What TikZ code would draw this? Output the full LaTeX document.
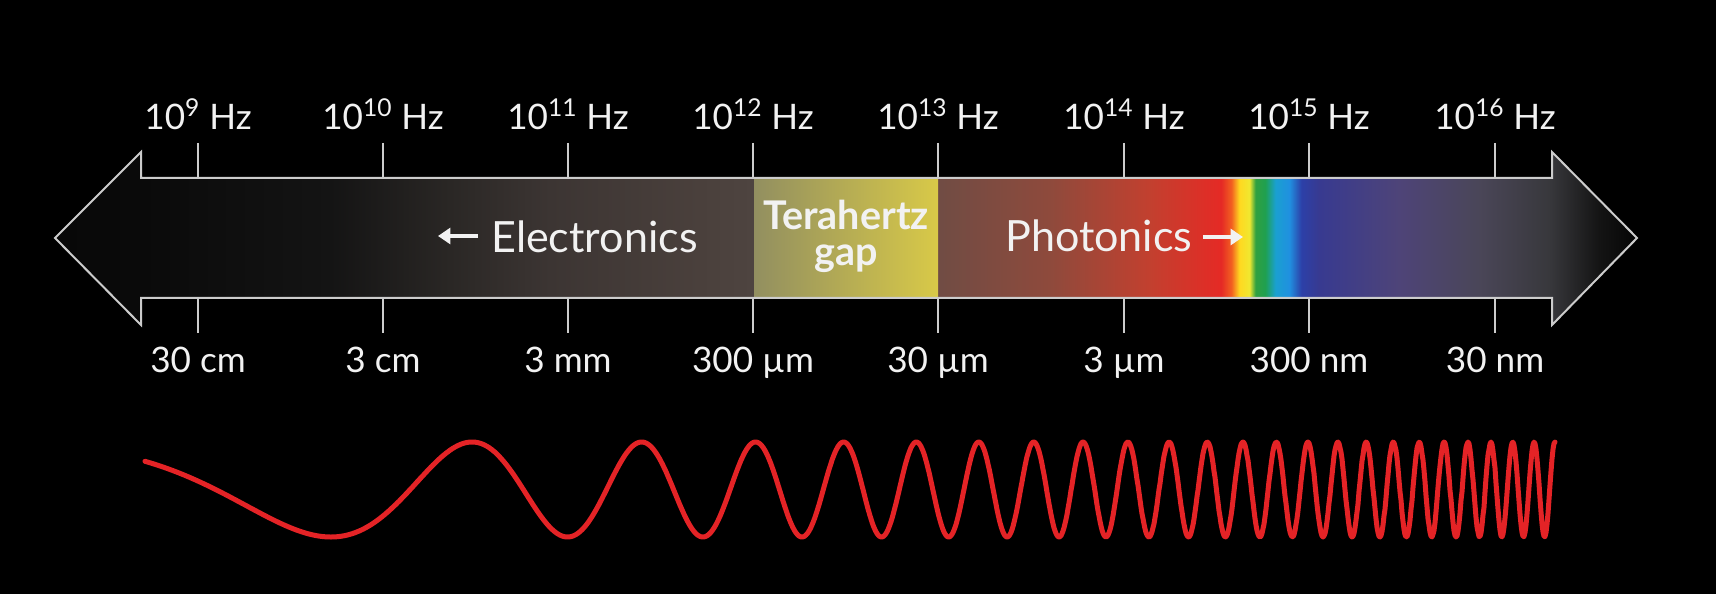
\documentclass[tikz,border=0pt]{standalone}
\usepackage{fontspec}
\setmainfont{Lato}
\usetikzlibrary{arrows.meta}
\definecolor{outl}{HTML}{CCCCCC}
\definecolor{txt}{HTML}{F2F2F2}
\definecolor{wave}{HTML}{E42326}
\definecolor{gapL}{HTML}{928F60}
\definecolor{gapR}{HTML}{D8C948}
\definecolor{s01}{HTML}{080808}
\definecolor{s02}{HTML}{0A0A0A}
\definecolor{s03}{HTML}{141414}
\definecolor{s04}{HTML}{2A2725}
\definecolor{s05}{HTML}{3C3533}
\definecolor{s06}{HTML}{4A403C}
\definecolor{s07}{HTML}{4E4440}
\definecolor{s08}{HTML}{704C44}
\definecolor{s09}{HTML}{8E4A3C}
\definecolor{s10}{HTML}{C2402F}
\definecolor{s11}{HTML}{E52A25}
\definecolor{s12}{HTML}{F26020}
\definecolor{s13}{HTML}{FFD820}
\definecolor{s14}{HTML}{F0E830}
\definecolor{s15}{HTML}{30A040}
\definecolor{s16}{HTML}{1FA050}
\definecolor{s17}{HTML}{1AA0D0}
\definecolor{s18}{HTML}{2090E0}
\definecolor{s19}{HTML}{2C40A8}
\definecolor{s20}{HTML}{383A90}
\definecolor{s21}{HTML}{4E4478}
\definecolor{s22}{HTML}{4A4658}
\definecolor{s23}{HTML}{38383C}
\definecolor{s24}{HTML}{141414}
\definecolor{s25}{HTML}{050505}
\pgfdeclarehorizontalshading{spectrum}{100bp}{color(0bp)=(s01); color(25bp)=(s01);
 color(27.72bp)=(s02); color(33.69bp)=(s03); color(37.48bp)=(s04); color(40.64bp)=(s05);
 color(45.37bp)=(s06); color(47.08bp)=(s07); color(52.89bp)=(s08); color(56.43bp)=(s09);
 color(59.59bp)=(s10); color(61.86bp)=(s11); color(62.18bp)=(s12); color(62.43bp)=(s13);
 color(62.75bp)=(s14); color(62.94bp)=(s15); color(63.25bp)=(s16); color(63.57bp)=(s17);
 color(64.01bp)=(s18); color(64.39bp)=(s19); color(64.96bp)=(s20); color(67.48bp)=(s21);
 color(70.01bp)=(s22); color(72.22bp)=(s23); color(73.80bp)=(s24); color(75bp)=(s25);
 color(100bp)=(s25)}
\tikzset{
  outline/.style={draw=outl, line width=0.04cm, line join=miter},
  tickline/.style={draw=outl, line width=0.04cm},
  scalelabel/.style={text=txt, anchor=base, inner sep=0pt, font=\fontsize{20pt}{23pt}\selectfont},
  biglabel/.style={text=txt, inner sep=0pt, font=\fontsize{24.5pt}{28pt}\selectfont},
  gaplabel/.style={text=txt, inner sep=0pt, anchor=base, font=\fontsize{22.5pt}{24pt}\selectfont\bfseries},
  textarrow/.style={draw=txt, line width=0.075cm, -{Triangle[length=7pt,width=9pt]}},
  wavestyle/.style={draw=wave, line width=0.1cm, line cap=round, line join=round},
}
\begin{document}
\begin{tikzpicture}[x=0.02cm,y=-0.02cm]
\fill[black] (0,0) rectangle (1716,594);
\useasboundingbox (0,0) rectangle (1716,594);
% spectrum arrow
\shade[shading=spectrum] (55,238) -- (141,152) -- (141,178) -- (1552,178) -- (1552,152) -- (1637,238) -- (1552,325) -- (1552,298) -- (141,298) -- (141,325) -- cycle;
% terahertz gap
\shade[left color=gapL, right color=gapR] (754,178) rectangle (938,298);
\draw[outline] (55,238) -- (141,152) -- (141,178) -- (1552,178) -- (1552,152) -- (1637,238) -- (1552,325) -- (1552,298) -- (141,298) -- (141,325) -- cycle;
% ticks and labels
\foreach \xx/\nm/\fq/\wl in {198/a/9/30 cm, 383/b/10/3 cm, 568/c/11/3 mm, 753/d/12/300 µm, 938/e/13/30 µm, 1124/f/14/3 µm, 1309/g/15/300 nm, 1495/h/16/30 nm}{
  \draw[tickline] (\xx,143) -- (\xx,178);
  \draw[tickline] (\xx,298) -- (\xx,333);
  \node[scalelabel] (freq\nm) at (\xx,130) {10\textsuperscript{\fq} Hz};
  \node[scalelabel] (wave\nm) at (\xx,372) {\wl};
}
% region labels
\node[biglabel, anchor=base west] (elec) at (491,253) {Electronics};
\coordinate (ea1) at (478,236);
\coordinate (ea2) at (438,236);
\draw[textarrow] (ea1) -- (ea2);
\node[biglabel, anchor=base west] (phot) at (1005,252) {Photonics};
\coordinate (pa1) at (1203,237);
\coordinate (pa2) at (1243,237);
\draw[textarrow] (pa1) -- (pa2);
\node[gaplabel] (thz) at (846,230) {Terahertz};
\node[gaplabel] (gap) at (846,266) {gap};
% chirped wave
\draw[wavestyle] plot[domain=145:1555, samples=1411, variable=\x]
  ({\x},{489.5-47.5*cos(420.34*(exp(4.2*ln((\x+500)/1000))-0.8875))});
\end{tikzpicture}
\end{document}
